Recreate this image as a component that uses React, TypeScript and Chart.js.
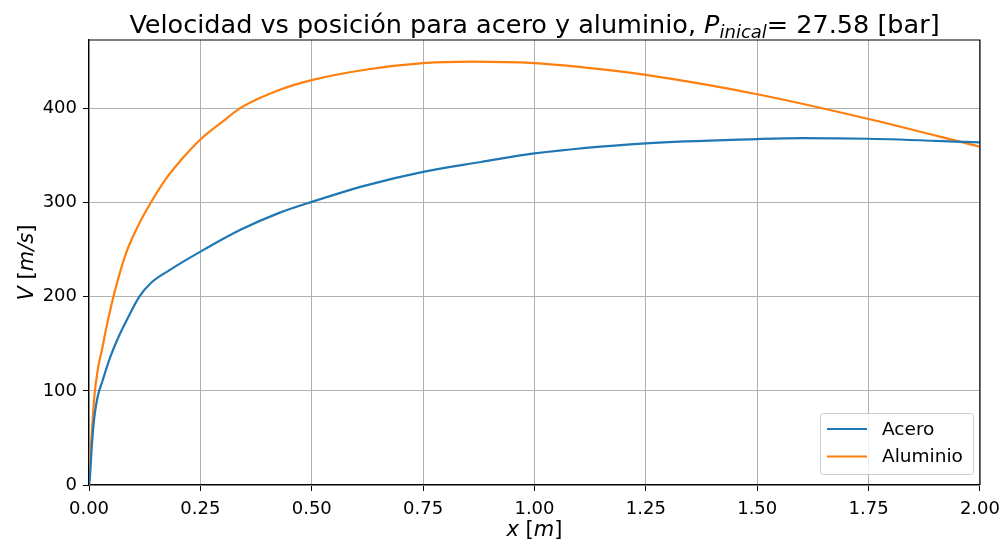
import React, { useEffect, useRef } from "react";
import { Chart, registerables } from "chart.js";

Chart.register(...registerables);

const aceroX = [0, 0.002, 0.0067, 0.012, 0.0195, 0.0306, 0.0455, 0.068, 0.09, 0.113, 0.14, 0.18, 0.262, 0.34, 0.427, 0.5, 0.62, 0.75, 0.88, 1.0, 1.25, 1.5, 1.6, 1.75, 2.0];
const aceroV = [0, 8, 44, 72, 94, 111, 133, 159, 180, 200, 215, 228, 251, 271, 289, 300.7, 318, 332.6, 343, 352.1, 362.8, 367.4, 368.4, 367.7, 363.8];

const aluminioX = [0, 0.002, 0.0067, 0.012, 0.0195, 0.0306, 0.038, 0.0567, 0.083, 0.113, 0.139, 0.171, 0.21, 0.25, 0.3, 0.342, 0.43, 0.5, 0.62, 0.75, 0.86, 1.0, 1.12, 1.25, 1.5, 1.75, 2.0];
const aluminioV = [0, 22, 58, 94, 122, 147, 165, 203.5, 246, 278, 300, 324, 347, 367, 386, 401, 420, 430, 441, 448, 449.6, 448, 443, 435.5, 415, 388.7, 359.2];

const seriesNames = ["Acero", "Aluminio"];
const seriesColors = ["#1f77b4", "#ff7f0e"];
const xTicks = [0, 0.25, 0.5, 0.75, 1.0, 1.25, 1.5, 1.75, 2.0];
const yTicks = [0, 100, 200, 300, 400];

const FONT = "DejaVu Sans";

const overlay = {
  id: "overlay",
  afterDraw(chart: any) {
    const ctx = chart.ctx;
    const a = chart.chartArea;
    ctx.save();
    ctx.strokeStyle = "#000";
    ctx.lineWidth = 1.2;
    ctx.beginPath();
    ctx.moveTo(a.left, a.top);
    ctx.lineTo(a.right, a.top);
    ctx.lineTo(a.right, a.bottom);
    ctx.stroke();

    const drawSegs = (list: any[], cxx: number, y: number) => {
      let tw = 0;
      for (const s of list) {
        ctx.font = s.f;
        tw += ctx.measureText(s.t).width;
      }
      let xx = cxx - tw / 2;
      for (const s of list) {
        ctx.font = s.f;
        ctx.fillText(s.t, xx, y + (s.dy || 0));
        xx += ctx.measureText(s.t).width;
      }
    };

    const cx = (a.left + a.right) / 2;
    ctx.fillStyle = "#000";
    ctx.textBaseline = "alphabetic";
    ctx.textAlign = "left";
    drawSegs(
      [
        { t: "Velocidad vs posición para acero y aluminio, ", f: `25.5px '${FONT}'` },
        { t: "P", f: `oblique 25.5px '${FONT}'` },
        { t: "inical", f: `oblique 18px '${FONT}'`, dy: 5 },
        { t: "= 27.58 [bar]", f: `25.5px '${FONT}'` },
      ],
      cx,
      33
    );

    drawSegs(
      [
        { t: "x", f: `oblique 21px '${FONT}'` },
        { t: " [", f: `21px '${FONT}'` },
        { t: "m", f: `oblique 21px '${FONT}'` },
        { t: "]", f: `21px '${FONT}'` },
      ],
      cx,
      536
    );

    ctx.save();
    ctx.translate(33, (a.top + a.bottom) / 2);
    ctx.rotate(-Math.PI / 2);
    drawSegs(
      [
        { t: "V", f: `oblique 21px '${FONT}'` },
        { t: " [", f: `21px '${FONT}'` },
        { t: "m/s", f: `oblique 21px '${FONT}'` },
        { t: "]", f: `21px '${FONT}'` },
      ],
      0,
      0
    );
    ctx.restore();

    const lx = 820, ly = 413, lw = 153, lh = 61;
    ctx.fillStyle = "rgba(255,255,255,0.8)";
    ctx.strokeStyle = "#cccccc";
    ctx.lineWidth = 1;
    ctx.beginPath();
    if ((ctx as any).roundRect) (ctx as any).roundRect(lx + 0.5, ly + 0.5, lw, lh, 3);
    else ctx.rect(lx + 0.5, ly + 0.5, lw, lh);
    ctx.fill();
    ctx.stroke();
    ctx.font = `18.5px '${FONT}'`;
    ctx.textBaseline = "middle";
    seriesNames.forEach((n, i) => {
      const yy = ly + 16 + i * 27.5;
      ctx.strokeStyle = seriesColors[i];
      ctx.lineWidth = 2.2;
      ctx.beginPath();
      ctx.moveTo(827, yy);
      ctx.lineTo(867, yy);
      ctx.stroke();
      ctx.fillStyle = "#000";
      ctx.fillText(n, 882, yy + 1);
    });
    ctx.restore();
  },
};

export default function App() {
  const ref = useRef<HTMLCanvasElement>(null);
  useEffect(() => {
    document.body.style.margin = "0";
    const chart = new Chart(ref.current!, {
      type: "line",
      data: {
        datasets: [
          {
            label: seriesNames[0],
            data: aceroX.map((x, i) => ({ x, y: aceroV[i] })),
            borderColor: seriesColors[0],
            backgroundColor: seriesColors[0],
            borderWidth: 2.2,
            pointRadius: 0,
            cubicInterpolationMode: "monotone",
          },
          {
            label: seriesNames[1],
            data: aluminioX.map((x, i) => ({ x, y: aluminioV[i] })),
            borderColor: seriesColors[1],
            backgroundColor: seriesColors[1],
            borderWidth: 2.2,
            pointRadius: 0,
            cubicInterpolationMode: "monotone",
          },
        ],
      },
      options: {
        animation: false,
        responsive: false,
        maintainAspectRatio: false,
        layout: { padding: { left: 0, top: 40, right: 25.5, bottom: 0 } },
        plugins: { legend: { display: false }, title: { display: false }, tooltip: { enabled: false } },
        scales: {
          x: {
            type: "linear",
            min: 0,
            max: 2,
            afterBuildTicks: (s: any) => {
              s.ticks = xTicks.map((v) => ({ value: v }));
            },
            afterFit: (s: any) => {
              s.height = 58;
            },
            ticks: {
              color: "#000",
              font: { family: FONT, size: 18 },
              padding: 8,
              maxRotation: 0,
              callback: (v: any) => Number(v).toFixed(2),
            },
            grid: { color: "#b0b0b0", lineWidth: 1, tickColor: "#000", tickLength: 6 },
            border: { color: "#000", width: 1.2 },
          },
          y: {
            type: "linear",
            min: 0,
            max: 472.6,
            afterBuildTicks: (s: any) => {
              s.ticks = yTicks.map((v) => ({ value: v }));
            },
            afterFit: (s: any) => {
              s.width = 89;
            },
            ticks: {
              color: "#000",
              font: { family: FONT, size: 18 },
              padding: 6,
              callback: (v: any) => String(v),
            },
            grid: { color: "#b0b0b0", lineWidth: 1, tickColor: "#000", tickLength: 6 },
            border: { color: "#000", width: 1.2 },
          },
        },
      },
      plugins: [overlay],
    } as any);
    return () => chart.destroy();
  }, []);
  return (
    <div style={{ position: "absolute", left: 0, top: 0, width: 1008, height: 543 }}>
      <canvas ref={ref} width={1008} height={543} style={{ display: "block", width: 1008, height: 543 }} />
    </div>
  );
}
